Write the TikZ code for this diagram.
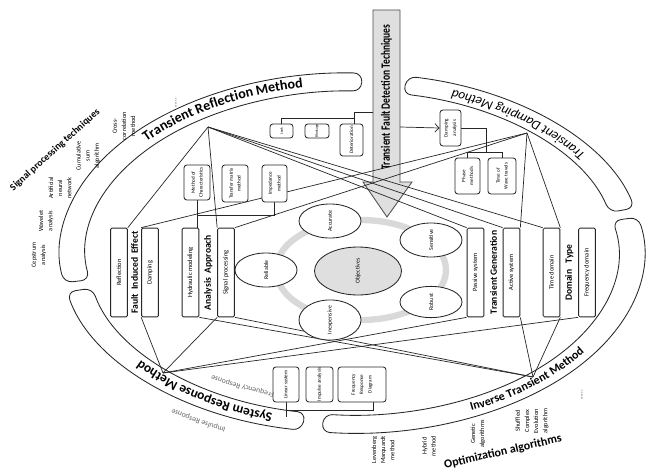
\documentclass[tikz,border=0pt]{standalone}
\usepackage{fontspec}
\setmainfont{Carlito}
\usepackage{tikz}
\usetikzlibrary{arrows.meta,positioning,shapes.geometric,calc,decorations.text,backgrounds}

\begin{document}
\begin{tikzpicture}[
  x=0.025cm, y=0.025cm,
  band/.style={draw=black!85, line width=0.6pt, fill=white, rounded corners=6pt},
  tbox/.style={rectangle, draw=black!85, line width=0.6pt, fill=white, rounded corners=1pt, minimum width=0.42cm, minimum height=2.22cm, inner sep=0pt, font=\fontsize{4.6}{5}\selectfont},
  sbox/.style 2 args={rectangle, draw=black!85, line width=0.6pt, fill=white, rounded corners=2pt, minimum width=#1*0.025cm, minimum height=#2*0.025cm, inner sep=0pt, font=\fontsize{3.6}{4.2}\selectfont},
  oval/.style={ellipse, draw=black!85, line width=0.6pt, fill=white, minimum width=1.55cm, minimum height=0.85cm, inner sep=0pt, font=\fontsize{4.2}{5}\selectfont},
  glabel/.style={font=\fontsize{6.8}{8}\selectfont\bfseries, rotate=90, inner sep=0pt},
  note/.style={font=\fontsize{4.5}{6.5}\selectfont, rotate=90, align=center, inner sep=0pt},
  link/.style={draw=black!85, line width=0.5pt}
]
\useasboundingbox (0,0) rectangle (651,-473);

% Method apexes
\coordinate (c) at (352,-253);
\coordinate (trm) at (208,-127);
\coordinate (tdm) at (527,-133);
\coordinate (itm) at (533,-377);
\coordinate (srm) at (163,-373);

% Fault types
\node[sbox={23}{14}, font=\fontsize{2.6}{3}\selectfont] (leak) at (281.5,-131) {\rotatebox{90}{Leak}};
\node[sbox={24}{14}, font=\fontsize{2.6}{3}\selectfont] (blk) at (317,-131) {\rotatebox{90}{Blockage}};
\node[sbox={23}{32}] (det) at (351.5,-140) {\rotatebox{90}{Deterioration}};

% Damping analysis
\node[sbox={21}{36}] (design) at (450.5,-128) {\rotatebox{90}{\shortstack{Damping\\analysis}}};
\node[sbox={25}{36}] (phase) at (467.5,-176) {\rotatebox{90}{\shortstack{Phase\\methods}}};
\node[sbox={28}{36}] (wave) at (502,-176) {\rotatebox{90}{\shortstack{Time of\\Wave travels}}};

% Hydraulic models
\node[sbox={26}{35}] (moc) at (197,-182.5) {\rotatebox{90}{\shortstack{Method of\\Characteristics}}};
\node[sbox={26}{37}] (tmm) at (235,-183.5) {\rotatebox{90}{\shortstack{Transfer matrix\\method}}};
\node[sbox={25}{37}] (imp) at (274.5,-183.5) {\rotatebox{90}{\shortstack{Impedance\\method}}};

% Left groups
\node[tbox] (refl) at (119,-272.5) {\rotatebox{90}{Reflection}};
\node[tbox] (damp) at (150,-272.5) {\rotatebox{90}{Damping}};
\node[glabel] (fie) at ($(refl)!0.5!(damp)$) {Fault \ Induced \ Effect};
\node[tbox] (hyd) at (190.5,-272.5) {\rotatebox{90}{Hydraulic modeling}};
\node[tbox] (sig) at (226,-272.5) {\rotatebox{90}{Signal processing}};
\node[glabel] (aa) at ($(hyd)!0.5!(sig)$) {Analysis \ Approach};

% Right groups
\node[tbox] (pas) at (475.5,-272.5) {\rotatebox{90}{Passive system}};
\node[tbox] (act) at (511.5,-272.5) {\rotatebox{90}{Active system}};
\node[glabel] (tg) at ($(pas)!0.5!(act)$) {Transient Generation};
\node[tbox] (time) at (551.5,-272.5) {\rotatebox{90}{Time domain}};
\node[tbox] (freq) at (587,-272.5) {\rotatebox{90}{Frequency domain}};
\node[glabel] (dt) at ($(time)!0.5!(freq)$) {Domain \ \ Type};

% Objectives
\node[oval, fill=gray!25, minimum width=87*0.025cm, minimum height=48*0.025cm] (obj) at (358,-271) {\rotatebox{90}{Objectives}};
\node[oval] (acc) at (330,-221) {\rotatebox{90}{Accurate}};
\node[oval] (sens) at (431,-240) {\rotatebox{90}{Sensitive}};
\node[oval] (rel) at (266,-270) {\rotatebox{90}{Reliable}};
\node[oval] (cheap) at (330,-320) {\rotatebox{90}{Inexpensive}};
\node[oval, minimum height=0.78cm] (rob) at (431,-302) {\rotatebox{90}{Robust}};

% Response tests
\node[sbox={26}{35}] (lin) at (286,-384.5) {\rotatebox{90}{Linear system}};
\node[sbox={27}{35}] (imps) at (319.5,-384.5) {\rotatebox{90}{Impulse analysis}};
\node[sbox={48}{35}] (frd) at (362,-384.5) {\rotatebox{90}{\shortstack{Frequency\\Response\\Diagram}}};

% Title arrow
\node[rotate=90, font=\fontsize{9}{10}\selectfont\bfseries] (title) at (386.5,-97) {\scalebox{0.75}[1]{Transient Fault Detection Techniques}};
\coordinate (arrL) at (373,-112);
\coordinate (arrR) at (400,-127);

% Outside techniques
\node[font=\fontsize{7}{8}\selectfont\bfseries, rotate=42] (spt) at (55,-150) {Signal processing techniques};
\node[note] (xcor) at (124,-126) {Cross-\\correlation\\method};
\node[note] (cusum) at (88,-156) {Cumulative\\sum\\algorithm};
\node[note] (ann) at (60,-188) {Artificial\\neural\\network};
\node[note] (wav) at (46,-221) {Wavelet\\analysis};
\node[note] (cep) at (39,-255) {Cepstrum\\analysis};
\node[note] (spdots) at (176,-103) {......};
\node[font=\fontsize{8.5}{9}\selectfont\bfseries, rotate=13] (opt) at (503,-452) {Optimization algorithms};
\node[note] (lm) at (383,-450) {Levenberg\\Marquardt\\method};
\node[note] (hyb) at (429,-446) {Hybrid\\method};
\node[note] (ga) at (478,-434) {Genetic\\algorithms};
\node[note] (sce) at (532,-421) {Shuffled\\Complex\\Evolution\\algorithm};
\node[note] (opdots) at (582,-395) {......};

\begin{pgfonlayer}{background}
% Method bands
\foreach \a/\b in {88/189.5, 14.5/79, 192.5/260, -96/11.5}
  \draw[band] ($(c)+(\a:292 and 180)$) arc[start angle=\a, end angle=\b, x radius=292, y radius=180]
    -- ($(c)+(\b:266 and 162)$) arc[start angle=\b, end angle=\a, x radius=266, y radius=162] -- cycle;

\draw[gray!30, line width=4.5pt] (361,-270) ellipse [x radius=85, y radius=50];

\draw[draw=gray!60!black, fill=gray!25, line width=0.6pt] (373,-10) -- (400,-10) -- (400,-182) -- (412,-182)
  -- (387,-217) -- (363,-182) -- (373,-182) -- cycle;

% Method links
\draw[link] (trm) -- (refl.north east);
\draw[link] (trm) -- (sig.north west);
\draw[link] (trm) -- (pas.north west);
\draw[link] (trm) -- (act.north west);
\draw[link] (trm) -- (time.north west);
\draw[link] (tdm) -- (damp.north west);
\draw[link] (tdm) -- (sig.north east);
\draw[link] (tdm) -- (act.north east);
\draw[link] (tdm) -- (time.north east);
\draw[link] (itm) -- (hyd.south east);
\draw[link] (itm) -- (sig.south east);
\draw[link] (itm) -- (act.south east);
\draw[link] (itm) -- (time.south east);
\draw[link] (srm) -- (damp.south west);
\draw[link] (srm) -- (sig.south west);
\draw[link] (srm) -- (pas.south west);
\draw[link] (srm) -- (freq.south west);

% Tree links
\coordinate (tbus) at (354,-118);
\draw[link] (arrL) -- (354,-112) -- (tbus) -| (leak.north);
\draw[link] (tbus) -- (tbus |- det.north);
\draw[link, -{Straight Barb[length=3pt]}] (arrR) -- (design.west);
\draw[link] (design.east) -| (486,-153);
\draw[link] (phase.north) -- ++(0,5) -| (wave.north);
\draw[link] (moc.south) -- (moc.south |- hyd.north);
\draw[link] (imp.south) |- (moc.south |- 0,-215);
\coordinate (srmtap) at (286,-417);
\draw[link] (lin.south) -- (srmtap);
\draw[link] (lin.south |- 0,-410) -| (frd.south -| 373,0);
\end{pgfonlayer}

% Band labels
\path[decorate, decoration={text along path, text align=center, text={|\fontsize{10}{12}\selectfont\bfseries|Transient Reflection Method}}]
  ($(c)+(170:274 and 168)$) arc[start angle=170, end angle=78, x radius=274, y radius=168];
\path[decorate, decoration={text along path, text align=center, text={|\fontsize{9.5}{11}\selectfont\itshape|Transient Damping Method}}]
  ($(c)+(15:283 and 174)$) arc[start angle=15, end angle=83, x radius=283, y radius=174];
\path[decorate, decoration={text along path, text align=center, text={|\fontsize{8.5}{10}\selectfont\bfseries|Inverse Transient Method}}]
  ($(c)+(280:283 and 174)$) arc[start angle=280, end angle=346, x radius=283, y radius=174];
\path[decorate, decoration={text along path, text align=center, text={|\fontsize{9.5}{11}\selectfont\bfseries|System Response Method}}]
  ($(c)+(262:274 and 168)$) arc[start angle=262, end angle=208, x radius=274, y radius=168];
\path[decorate, decoration={text along path, text align=center, text color=gray!80!black, text={|\fontsize{5.5}{6}\selectfont|Frequency Response}}]
  ($(c)+(264:250 and 147)$) arc[start angle=264, end angle=222, x radius=250, y radius=147];
\path[decorate, decoration={text along path, text align=center, text color=gray!80!black, text={|\fontsize{5.5}{6}\selectfont|Impulse Response}}]
  ($(c)+(258:306 and 192)$) arc[start angle=258, end angle=220, x radius=306, y radius=192];

\end{tikzpicture}
\end{document}
